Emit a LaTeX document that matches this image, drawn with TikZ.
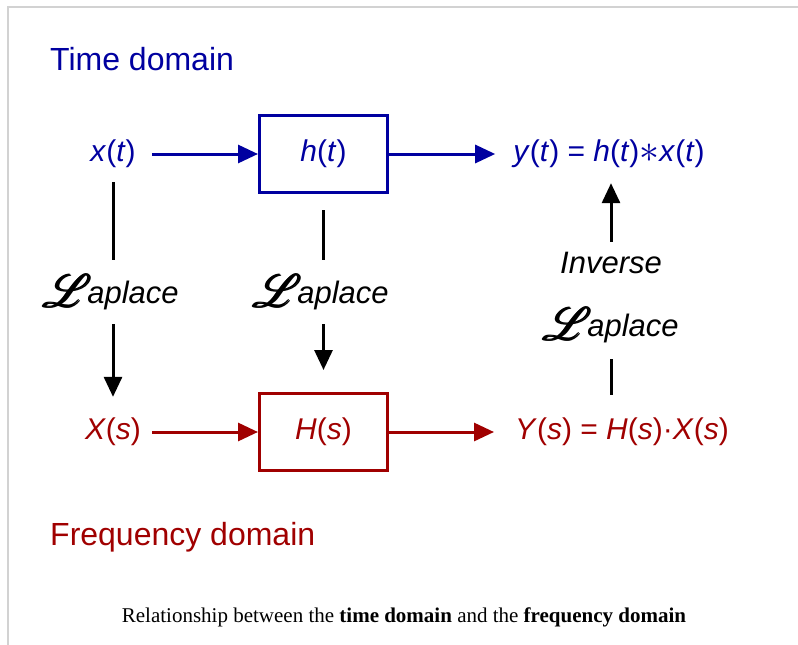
\documentclass[tikz,border=0pt]{standalone}
\usepackage{amssymb,amsmath}
\usepackage{mathrsfs}
\usepackage{graphicx}
\usepackage{fontspec}
\setmainfont{Liberation Sans}
\newfontfamily\capfont{Liberation Serif}
\usetikzlibrary{arrows.meta}

\definecolor{tblue}{RGB}{0,0,160}
\definecolor{fred}{RGB}{160,0,0}

\tikzset{
  sig/.style={inner sep=0pt, font=\fontsize{30}{36}\selectfont},
  sysbox/.style={draw, line width=3pt, minimum width=128pt, minimum height=77pt,
                 inner sep=0pt, font=\fontsize{30}{36}\selectfont},
  lap/.style={inner sep=0pt, font=\fontsize{31}{36}\selectfont\itshape},
  flow/.style={line width=3pt, -{Triangle[length=20pt,width=18pt]}},
  bar/.style={line width=3pt},
  dom/.style={anchor=west, inner sep=0pt, font=\fontsize{32}{38}\selectfont}
}

\newcommand{\Lap}{\raisebox{-4pt}{\scalebox{1.85}{$\pmb{\mathscr{L}}$}}\kern-5pt aplace}
\newcommand{\conv}{\raisebox{-1pt}{\scalebox{1.6}{$\ast$}}}

\begin{document}
\begin{tikzpicture}[x=1pt, y=-1pt]

  \useasboundingbox (0,0) rectangle (798,645);
  \draw [gray!35, line width=1.5pt] (8,645) -- (8,7) -- (798,7);

  \node [dom, tblue] (tdom) at (50,59) {Time domain};
  \node [dom, fred] (fdom) at (50,537) {Frequency domain};

  \node [sig, tblue] (xt) at (113,154) {\textit{x}(\textit{t})};
  \node [sysbox, tblue] (ht) at (323.5,154) {\textit{h}(\textit{t})};
  \node [sig, tblue] (yt) at (609,154)
        {\textit{y}(\textit{t}) = \textit{h}(\textit{t})\conv\textit{x}(\textit{t})};

  \node [sig, fred] (Xs) at (113,432) {\textit{X}(\textit{s})};
  \node [sysbox, fred] (Hs) at (323.5,432) {\textit{H}(\textit{s})};
  \node [sig, fred] (Ys) at (622,432)
        {\textit{Y}(\textit{s}) = \textit{H}(\textit{s})·\textit{X}(\textit{s})};

  \node [lap] (lapA) at (111,292) {\Lap};
  \node [lap] (lapB) at (321,292) {\Lap};
  \node [lap] (inv) at (611,263) {Inverse};
  \node [lap] (lapC) at (611,325) {\Lap};

  \draw [flow, tblue, shorten <=16pt] (xt) -- (ht);
  \draw [flow, tblue, shorten >=18pt] (ht) -- (yt);
  \draw [flow, fred, shorten <=11pt] (Xs) -- (Hs);
  \draw [flow, fred, shorten >=21pt] (Hs) -- (Ys);

  \draw [bar, shorten <=14pt, shorten >=14pt] (xt) -- (lapA.north -| xt);
  \draw [flow, shorten <=14pt, shorten >=21pt] (lapA.south -| Xs) -- (Xs);
  \draw [bar, shorten <=16pt, shorten >=14pt] (ht) -- (lapB.north -| ht);
  \draw [flow, shorten <=14pt, shorten >=22pt] (lapB.south -| Hs) -- (Hs);
  \draw [flow, shorten <=10pt, shorten >=15pt] (inv) -- (inv |- yt.south);
  \draw [bar, shorten <=16pt, shorten >=23pt] (lapC) -- (lapC |- Ys.north);

  \node [inner sep=0pt, font=\capfont\fontsize{21}{25}\selectfont] (cap) at (404,617)
        {Relationship between the \textbf{time domain} and the \textbf{frequency domain}};

\end{tikzpicture}
\end{document}
